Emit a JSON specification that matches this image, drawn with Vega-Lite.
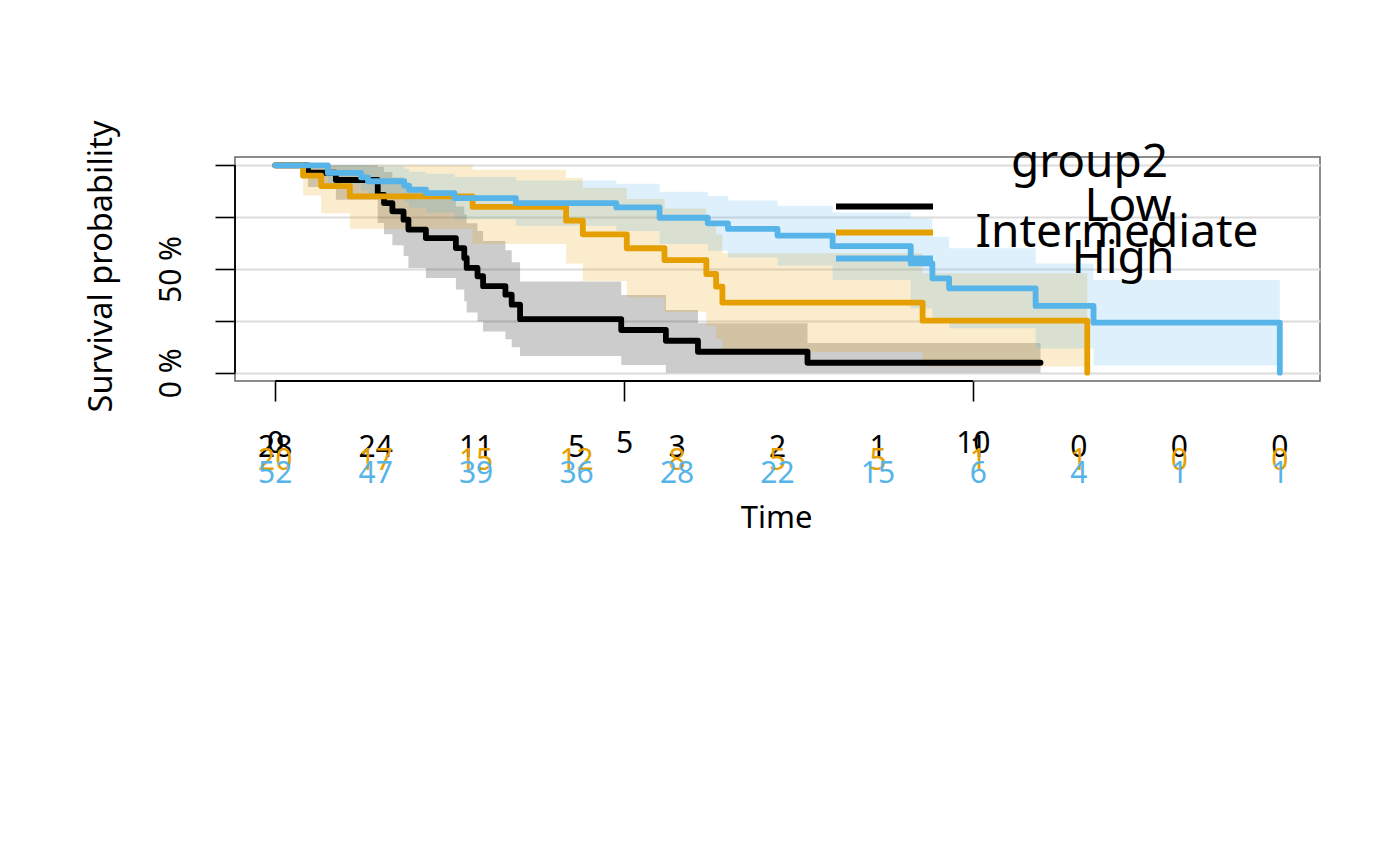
{
  "$schema": "https://vega.github.io/schema/vega-lite/v6.json",
  "width": 1085,
  "height": 224,
  "autosize": {"type": "none"},
  "padding": {"left": 235, "top": 157, "right": 80, "bottom": 485},
  "background": "white",
  "title": {
    "text": "group2", "fontSize": 46, "fontWeight": "normal", "color": "black", "font": "Noto Sans",
    "anchor": "middle", "frame": "group", "orient": "top", "offset": 0, "baseline": "alphabetic",
    "dx": 312, "dy": 103
  },
  "config": {
    "font": "Noto Sans",
    "view": {"stroke": "#666666", "strokeWidth": 1.5},
    "legend": {
      "orient": "none", "direction": "vertical", "labelFontSize": 46, "labelColor": "black",
      "labelAlign": "center", "labelBaseline": "middle", "labelLimit": 600,
      "symbolType": "stroke", "symbolSize": 9409, "symbolStrokeWidth": 5.8, "padding": 0, "offset": 0
    }
  },
  "resolve": {"scale": {"color": "independent"}, "legend": {"color": "independent"}},
  "datasets": {
    "km": [
      {"group": "Low", "time": 0, "surv": 1, "lower": 1, "upper": 1},
      {"group": "Low", "time": 0.47, "surv": 0.964, "lower": 0.895, "upper": 1},
      {"group": "Low", "time": 0.87, "surv": 0.929, "lower": 0.834, "upper": 1},
      {"group": "Low", "time": 1.47, "surv": 0.857, "lower": 0.722, "upper": 0.992},
      {"group": "Low", "time": 1.56, "surv": 0.818, "lower": 0.668, "upper": 0.968},
      {"group": "Low", "time": 1.68, "surv": 0.778, "lower": 0.615, "upper": 0.941},
      {"group": "Low", "time": 1.84, "surv": 0.738, "lower": 0.563, "upper": 0.913},
      {"group": "Low", "time": 1.91, "surv": 0.69, "lower": 0.505, "upper": 0.875},
      {"group": "Low", "time": 2.16, "surv": 0.649, "lower": 0.457, "upper": 0.841},
      {"group": "Low", "time": 2.59, "surv": 0.601, "lower": 0.401, "upper": 0.801},
      {"group": "Low", "time": 2.71, "surv": 0.553, "lower": 0.343, "upper": 0.763},
      {"group": "Low", "time": 2.745, "surv": 0.505, "lower": 0.29, "upper": 0.72},
      {"group": "Low", "time": 2.9, "surv": 0.465, "lower": 0.247, "upper": 0.683},
      {"group": "Low", "time": 2.98, "surv": 0.417, "lower": 0.199, "upper": 0.635},
      {"group": "Low", "time": 3.3, "surv": 0.376, "lower": 0.161, "upper": 0.591},
      {"group": "Low", "time": 3.39, "surv": 0.328, "lower": 0.123, "upper": 0.533},
      {"group": "Low", "time": 3.51, "surv": 0.258, "lower": 0.08, "upper": 0.44},
      {"group": "Low", "time": 4.96, "surv": 0.206, "lower": 0.037, "upper": 0.375},
      {"group": "Low", "time": 5.6, "surv": 0.154, "lower": 0, "upper": 0.302},
      {"group": "Low", "time": 6.06, "surv": 0.101, "lower": 0, "upper": 0.238},
      {"group": "Low", "time": 7.63, "surv": 0.048, "lower": 0, "upper": 0.143},
      {"group": "Low", "time": 10.97, "surv": 0.048, "lower": 0, "upper": 0.143},
      {"group": "Intermediate", "time": 0, "surv": 1, "lower": 1, "upper": 1},
      {"group": "Intermediate", "time": 0.4, "surv": 0.95, "lower": 0.854, "upper": 1},
      {"group": "Intermediate", "time": 0.66, "surv": 0.9, "lower": 0.769, "upper": 1},
      {"group": "Intermediate", "time": 1.07, "surv": 0.85, "lower": 0.694, "upper": 1},
      {"group": "Intermediate", "time": 2.83, "surv": 0.8, "lower": 0.621, "upper": 0.979},
      {"group": "Intermediate", "time": 4.17, "surv": 0.733, "lower": 0.527, "upper": 0.939},
      {"group": "Intermediate", "time": 4.41, "surv": 0.667, "lower": 0.442, "upper": 0.892},
      {"group": "Intermediate", "time": 5.04, "surv": 0.6, "lower": 0.363, "upper": 0.837},
      {"group": "Intermediate", "time": 5.58, "surv": 0.543, "lower": 0.294, "upper": 0.792},
      {"group": "Intermediate", "time": 6.18, "surv": 0.476, "lower": 0.225, "upper": 0.727},
      {"group": "Intermediate", "time": 6.32, "surv": 0.415, "lower": 0.163, "upper": 0.667},
      {"group": "Intermediate", "time": 6.41, "surv": 0.338, "lower": 0.1, "upper": 0.576},
      {"group": "Intermediate", "time": 9.28, "surv": 0.251, "lower": 0.03, "upper": 0.479},
      {"group": "Intermediate", "time": 11.64, "surv": 0, "lower": 0.03, "upper": 0.479},
      {"group": "High", "time": 0, "surv": 1, "lower": 1, "upper": 1},
      {"group": "High", "time": 0.755, "surv": 0.963, "lower": 0.911, "upper": 1},
      {"group": "High", "time": 1.23, "surv": 0.942, "lower": 0.878, "upper": 1},
      {"group": "High", "time": 1.33, "surv": 0.923, "lower": 0.85, "upper": 0.996},
      {"group": "High", "time": 1.85, "surv": 0.902, "lower": 0.822, "upper": 0.983},
      {"group": "High", "time": 1.92, "surv": 0.882, "lower": 0.795, "upper": 0.969},
      {"group": "High", "time": 2.16, "surv": 0.866, "lower": 0.773, "upper": 0.959},
      {"group": "High", "time": 2.57, "surv": 0.842, "lower": 0.74, "upper": 0.944},
      {"group": "High", "time": 3.45, "surv": 0.818, "lower": 0.709, "upper": 0.927},
      {"group": "High", "time": 4.89, "surv": 0.797, "lower": 0.683, "upper": 0.911},
      {"group": "High", "time": 5.51, "surv": 0.747, "lower": 0.621, "upper": 0.873},
      {"group": "High", "time": 6.2, "surv": 0.72, "lower": 0.588, "upper": 0.852},
      {"group": "High", "time": 6.49, "surv": 0.693, "lower": 0.556, "upper": 0.83},
      {"group": "High", "time": 7.2, "surv": 0.661, "lower": 0.517, "upper": 0.805},
      {"group": "High", "time": 7.99, "surv": 0.61, "lower": 0.447, "upper": 0.773},
      {"group": "High", "time": 9.11, "surv": 0.527, "lower": 0.31, "upper": 0.744},
      {"group": "High", "time": 9.42, "surv": 0.455, "lower": 0.254, "upper": 0.656},
      {"group": "High", "time": 9.66, "surv": 0.407, "lower": 0.214, "upper": 0.6},
      {"group": "High", "time": 10.9, "surv": 0.322, "lower": 0.117, "upper": 0.527},
      {"group": "High", "time": 11.73, "surv": 0.241, "lower": 0.035, "upper": 0.447},
      {"group": "High", "time": 14.4, "surv": 0, "lower": 0.035, "upper": 0.447}
    ],
    "risk": [
      {"group": "Low", "time": 0, "n": 28},
      {"group": "Low", "time": 1.44, "n": 24},
      {"group": "Low", "time": 2.88, "n": 11},
      {"group": "Low", "time": 4.32, "n": 5},
      {"group": "Low", "time": 5.76, "n": 3},
      {"group": "Low", "time": 7.2, "n": 2},
      {"group": "Low", "time": 8.64, "n": 1},
      {"group": "Low", "time": 10.08, "n": 1},
      {"group": "Low", "time": 11.52, "n": 0},
      {"group": "Low", "time": 12.96, "n": 0},
      {"group": "Low", "time": 14.4, "n": 0},
      {"group": "Intermediate", "time": 0, "n": 20},
      {"group": "Intermediate", "time": 1.44, "n": 17},
      {"group": "Intermediate", "time": 2.88, "n": 15},
      {"group": "Intermediate", "time": 4.32, "n": 12},
      {"group": "Intermediate", "time": 5.76, "n": 8},
      {"group": "Intermediate", "time": 7.2, "n": 5},
      {"group": "Intermediate", "time": 8.64, "n": 5},
      {"group": "Intermediate", "time": 10.08, "n": 1},
      {"group": "Intermediate", "time": 11.52, "n": 1},
      {"group": "Intermediate", "time": 12.96, "n": 0},
      {"group": "Intermediate", "time": 14.4, "n": 0},
      {"group": "High", "time": 0, "n": 52},
      {"group": "High", "time": 1.44, "n": 47},
      {"group": "High", "time": 2.88, "n": 39},
      {"group": "High", "time": 4.32, "n": 36},
      {"group": "High", "time": 5.76, "n": 28},
      {"group": "High", "time": 7.2, "n": 22},
      {"group": "High", "time": 8.64, "n": 15},
      {"group": "High", "time": 10.08, "n": 6},
      {"group": "High", "time": 11.52, "n": 4},
      {"group": "High", "time": 12.96, "n": 1},
      {"group": "High", "time": 14.4, "n": 1}
    ]
  },
  "layer": [
    {
      "data": {"name": "km"},
      "transform": [{"filter": "datum.group == 'Low'"}],
      "mark": {"type": "area", "interpolate": "step-after", "color": "#000000", "fillOpacity": 0.2, "strokeWidth": 0},
      "encoding": {
        "x": {
          "field": "time", "type": "quantitative",
          "scale": {"domain": [-0.576, 14.976], "nice": false, "zero": false},
          "axis": {
            "values": [0, 5, 10], "format": "d", "title": "Time", "titleFontSize": 31, "titleFontWeight": "normal",
            "titleColor": "black", "titleBaseline": "alphabetic", "titleAlign": "center", "titleX": 541, "titleY": 146,
            "labelFontSize": 30, "labelColor": "black", "labelBaseline": "alphabetic", "labelPadding": 51,
            "labelFlush": false, "labelOverlap": false,
            "tickSize": 20, "tickColor": "black", "tickWidth": 1.6, "domain": false, "grid": false
          }
        },
        "y": {
          "field": "lower", "type": "quantitative",
          "scale": {"domain": [-0.04, 1.04], "nice": false, "zero": false},
          "axis": {
            "values": [0, 0.25, 0.5, 0.75, 1], "title": "Survival probability", "titleFontSize": 32.5,
            "titleFontWeight": "normal", "titleColor": "black", "titleAngle": 270, "titleBaseline": "alphabetic",
            "titleAlign": "center", "titleX": -124, "titleY": 109,
            "labelExpr": "datum.value == 0 ? '0 %' : (datum.value == 0.5 ? '50 %' : '')",
            "labelAngle": 270, "labelAlign": "center", "labelBaseline": "alphabetic", "labelPadding": 35,
            "labelFontSize": 30, "labelColor": "black", "labelOverlap": false, "labelFlush": false,
            "tickSize": 20, "tickColor": "black", "tickWidth": 1.6, "domain": false,
            "grid": true, "gridColor": "#dcdcdc", "gridWidth": 2
          }
        },
        "y2": {"field": "upper"}
      }
    },
    {
      "data": {"name": "km"},
      "transform": [{"filter": "datum.group == 'Intermediate'"}],
      "mark": {"type": "area", "interpolate": "step-after", "color": "#E69F00", "fillOpacity": 0.2, "strokeWidth": 0},
      "encoding": {
        "x": {"field": "time", "type": "quantitative"},
        "y": {"field": "lower", "type": "quantitative"},
        "y2": {"field": "upper"}
      }
    },
    {
      "data": {"name": "km"},
      "transform": [{"filter": "datum.group == 'High'"}],
      "mark": {"type": "area", "interpolate": "step-after", "color": "#56B4E9", "fillOpacity": 0.2, "strokeWidth": 0},
      "encoding": {
        "x": {"field": "time", "type": "quantitative"},
        "y": {"field": "lower", "type": "quantitative"},
        "y2": {"field": "upper"}
      }
    },
    {
      "data": {"name": "km"},
      "transform": [{"filter": "datum.group == 'Low'"}],
      "mark": {"type": "line", "interpolate": "step-after", "strokeWidth": 5.8, "strokeCap": "round", "strokeJoin": "round"},
      "encoding": {
        "x": {"field": "time", "type": "quantitative"},
        "y": {"field": "surv", "type": "quantitative"},
        "color": {
          "field": "group", "type": "nominal",
          "scale": {"domain": ["Low"], "range": ["#000000"]},
          "legend": {"title": null, "legendX": 598, "legendY": -2, "labelOffset": 192}
        }
      }
    },
    {
      "data": {"name": "km"},
      "transform": [{"filter": "datum.group == 'Intermediate'"}],
      "mark": {"type": "line", "interpolate": "step-after", "strokeWidth": 5.8, "strokeCap": "round", "strokeJoin": "round"},
      "encoding": {
        "x": {"field": "time", "type": "quantitative"},
        "y": {"field": "surv", "type": "quantitative"},
        "color": {
          "field": "group", "type": "nominal",
          "scale": {"domain": ["Intermediate"], "range": ["#E69F00"]},
          "legend": {"title": null, "legendX": 598, "legendY": 24, "labelOffset": 181}
        }
      }
    },
    {
      "data": {"name": "km"},
      "transform": [{"filter": "datum.group == 'High'"}],
      "mark": {"type": "line", "interpolate": "step-after", "strokeWidth": 5.8, "strokeCap": "round", "strokeJoin": "round"},
      "encoding": {
        "x": {"field": "time", "type": "quantitative"},
        "y": {"field": "surv", "type": "quantitative"},
        "color": {
          "field": "group", "type": "nominal",
          "scale": {"domain": ["High"], "range": ["#56B4E9"]},
          "legend": {"title": null, "legendX": 598, "legendY": 50, "labelOffset": 187}
        }
      }
    },
    {
      "data": {"values": [{}]},
      "mark": {"type": "rule", "color": "black", "strokeWidth": 1.8},
      "encoding": {"x": {"datum": 0}, "x2": {"datum": 10}, "y": {"datum": -0.04}}
    },
    {
      "data": {"values": [{}]},
      "mark": {"type": "rule", "color": "black", "strokeWidth": 1.8},
      "encoding": {"x": {"datum": -0.576}, "y": {"datum": 0}, "y2": {"datum": 1}}
    },
    {
      "data": {"name": "risk"},
      "transform": [{"filter": "datum.group == 'Low'"}],
      "mark": {"type": "text", "fontSize": 30, "color": "#000000", "baseline": "alphabetic", "align": "center", "dy": 76},
      "encoding": {"x": {"field": "time", "type": "quantitative"}, "y": {"datum": -0.04}, "text": {"field": "n", "type": "quantitative"}}
    },
    {
      "data": {"name": "risk"},
      "transform": [{"filter": "datum.group == 'Intermediate'"}],
      "mark": {"type": "text", "fontSize": 30, "color": "#E69F00", "baseline": "alphabetic", "align": "center", "dy": 89},
      "encoding": {"x": {"field": "time", "type": "quantitative"}, "y": {"datum": -0.04}, "text": {"field": "n", "type": "quantitative"}}
    },
    {
      "data": {"name": "risk"},
      "transform": [{"filter": "datum.group == 'High'"}],
      "mark": {"type": "text", "fontSize": 30, "color": "#56B4E9", "baseline": "alphabetic", "align": "center", "dy": 102},
      "encoding": {"x": {"field": "time", "type": "quantitative"}, "y": {"datum": -0.04}, "text": {"field": "n", "type": "quantitative"}}
    }
  ]
}
